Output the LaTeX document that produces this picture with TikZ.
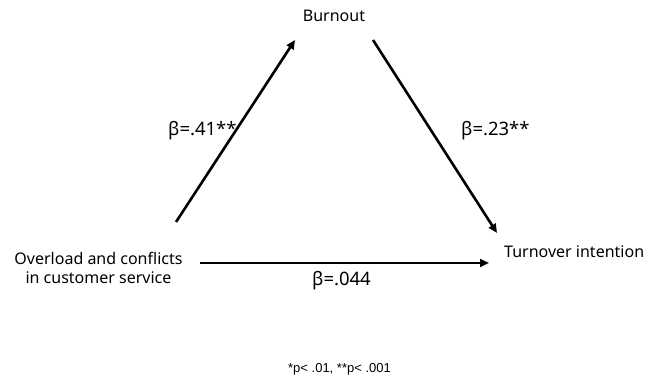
\documentclass[tikz,border=0pt]{standalone}
\usepackage{fontspec}
\setmainfont{Noto Sans}
\newfontfamily\notefont{Liberation Sans}
\usetikzlibrary{arrows.meta}
\begin{document}
\begin{tikzpicture}[x=1pt,y=-1pt,
  lbl/.style={font=\fontsize{16}{19.5}\selectfont, inner sep=0pt, align=center},
  beta/.style={font=\fontsize{18.5}{22}\selectfont, inner sep=0pt},
  arr/.style={line width=2.6pt, -{Triangle[length=9pt,width=8pt]}}]
\useasboundingbox (0,0) rectangle (654,382);
\node[lbl] (burn) at (334,16) {Burnout};
\node[lbl] (over) at (98.5,268) {Overload and conflicts\\in customer service};
\node[lbl, anchor=west] (turn) at (504,252) {Turnover intention};
\coordinate (a1) at (176,222);
\coordinate (a2) at (295,40);
\coordinate (b1) at (373,40);
\coordinate (b2) at (497,233);
\coordinate (c1) at (200,263);
\coordinate (c2) at (489,263);
\draw[arr] (a1) -- (a2);
\draw[arr] (b1) -- (b2);
\draw[arr] (c1) -- (c2);
\node[beta, anchor=west] (l1) at (168,131) {β=.41**};
\node[beta, anchor=west] (l2) at (461,131) {β=.23**};
\node[beta, anchor=west] (l3) at (312,281) {β=.044};
\node[font=\notefont\fontsize{13}{15}\selectfont, inner sep=0pt] (note) at (339.5,369) {*p< .01, **p< .001};
\end{tikzpicture}
\end{document}
